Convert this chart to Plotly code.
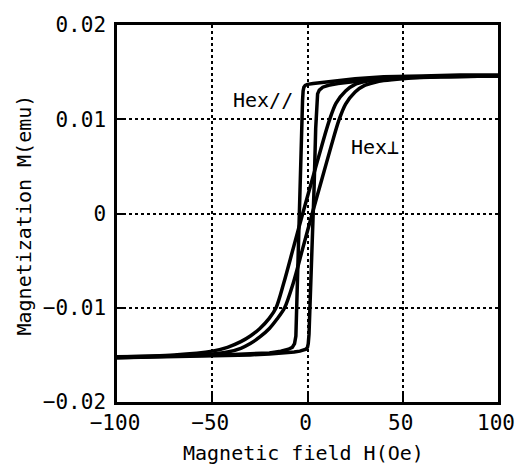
import plotly.graph_objects as go

# Hex// loop (square-like)
par_desc_H = [100, 80, 60, 40, 25, 15, 8, 3, 0, -1.2, -1.9, -2.3, -2.6, -3.5, -4.5, -5.3, -5.7, -6.1, -6.8, -8, -10, -14, -20, -30, -45, -65, -100]
par_desc_M = [0.0147, 0.0147, 0.0146, 0.0145, 0.0143, 0.0141, 0.0139, 0.0138, 0.0137, 0.0136, 0.0134, 0.0130, 0.0120, 0.0060, -0.0006, -0.0060, -0.0110, -0.0130, -0.0138, -0.0142, -0.0144, -0.0146, -0.0148, -0.0149, -0.0150, -0.0151, -0.0153]
par_asc_H = [-100, -70, -50, -30, -20, -12, -7, -4, -2, -0.8, 0, 0.4, 0.8, 1.5, 2.5, 3.5, 4.3, 4.8, 5.3, 6.2, 8, 11, 16, 25, 40, 60, 100]
par_asc_M = [-0.0153, -0.0152, -0.0151, -0.0150, -0.0149, -0.0148, -0.0147, -0.0146, -0.0145, -0.0144, -0.0142, -0.0138, -0.0128, -0.0090, -0.0030, 0.0030, 0.0090, 0.0118, 0.0127, 0.0131, 0.0134, 0.0136, 0.0138, 0.0140, 0.0143, 0.0145, 0.0146]

# Hex⊥ loop (sheared)
perp_desc_H = [100, 70, 50, 40, 30, 25, 20, 15, 11.5, 7.5, 2.5, -2.5, -7.5, -12.5, -16.5, -20, -25, -30, -35, -42, -50, -70, -100]
perp_desc_M = [0.0146, 0.0145, 0.0144, 0.0143, 0.0140, 0.0137, 0.0130, 0.0117, 0.0099, 0.0072, 0.0036, 0.0000, -0.0037, -0.0074, -0.0100, -0.0111, -0.0122, -0.0130, -0.0136, -0.0142, -0.0146, -0.0150, -0.0152]
perp_asc_H = [-100, -70, -50, -42, -35, -30, -25, -20, -16, -12, -7.5, -2.5, 2.5, 7.5, 12.5, 16.5, 20, 25, 30, 35, 40, 50, 70, 100]
perp_asc_M = [-0.0152, -0.0151, -0.0149, -0.0147, -0.0143, -0.0138, -0.0131, -0.0122, -0.0112, -0.0100, -0.0074, -0.0037, 0.0000, 0.0036, 0.0072, 0.0099, 0.0116, 0.0129, 0.0136, 0.0139, 0.0141, 0.0143, 0.0145, 0.0146]

x_ticks = [-100, -50, 0, 50, 100]
x_labels = ["\u2212100", "\u221250", "0", "50", "100"]
y_ticks = [-0.02, -0.01, 0, 0.01, 0.02]
y_labels = ["\u22120.02", "\u22120.01", "0", "0.01", "0.02"]

FONT = "DejaVu Sans Mono"
line = dict(color="black", width=3.5)

fig = go.Figure()
fig.add_trace(go.Scatter(x=par_desc_H, y=par_desc_M, mode="lines", line=dict(**line, shape="linear")))
fig.add_trace(go.Scatter(x=par_asc_H, y=par_asc_M, mode="lines", line=dict(**line, shape="linear")))
fig.add_trace(go.Scatter(x=perp_desc_H, y=perp_desc_M, mode="lines", line=dict(**line, shape="spline", smoothing=0.8)))
fig.add_trace(go.Scatter(x=perp_asc_H, y=perp_asc_M, mode="lines", line=dict(**line, shape="spline", smoothing=0.8)))

fig.add_annotation(x=-23.5, y=0.0120, text="Hex//", showarrow=False,
                   font=dict(family=FONT, size=20, color="black"))
fig.add_annotation(x=35.5, y=0.0071, text="Hex\u22a5", showarrow=False,
                   font=dict(family=FONT, size=20, color="black"))

# axis titles placed as paper annotations
fig.add_annotation(xref="paper", yref="paper", x=0.5, y=0, yshift=-51, xshift=-4,
                   xanchor="center", yanchor="middle",
                   text="Magnetic field H(Oe)", showarrow=False,
                   font=dict(family=FONT, size=20, color="black"))
fig.add_annotation(xref="paper", yref="paper", x=0, y=0.5, xshift=-94, yshift=-2,
                   xanchor="center", yanchor="middle",
                   text="Magnetization M(emu)", showarrow=False, textangle=-90,
                   font=dict(family=FONT, size=20, color="black"))

axis_common = dict(
    showline=True, mirror=True, linecolor="black", linewidth=2.5,
    showgrid=True, gridcolor="black", griddash="dot", gridwidth=1.5,
    zeroline=False, ticks="inside", ticklen=8, tickwidth=2, tickcolor="black",
    tickfont=dict(family=FONT, size=21, color="black"),
    automargin=False, ticklabeloverflow="allow",
)

fig.update_layout(
    width=515, height=466,
    margin=dict(l=117, r=17, t=25, b=64),
    paper_bgcolor="white", plot_bgcolor="white",
    showlegend=False,
    xaxis=dict(range=[-100, 100], tickvals=x_ticks, ticktext=x_labels, ticklabelshift=-2, **axis_common),
    yaxis=dict(range=[-0.02, 0.02], tickvals=y_ticks, ticktext=y_labels, ticklabelstandoff=4, **axis_common),
)

fig.write_html("out.html")
